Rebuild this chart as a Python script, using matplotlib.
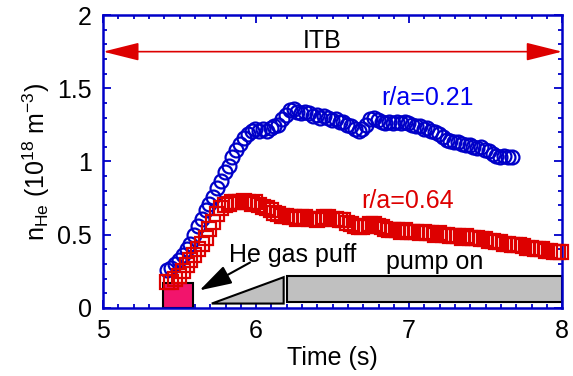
import numpy as np
import matplotlib
matplotlib.use("Agg")
import matplotlib.pyplot as plt
from matplotlib.patches import Rectangle, Polygon, FancyArrowPatch
from matplotlib.ticker import MultipleLocator

plt.rcParams['font.family'] = ['Liberation Sans', 'DejaVu Sans']
plt.rcParams['mathtext.fontset'] = 'custom'
plt.rcParams['mathtext.rm'] = 'Liberation Sans'
plt.rcParams['mathtext.it'] = 'Liberation Sans:italic'

# r/a = 0.21 (circles), sampled every 25 ms from 5.42 s
t_inner = 5.42 + 0.025 * np.arange(91)
n_inner = [0.26, 0.27, 0.30, 0.33, 0.36, 0.40, 0.44, 0.50, 0.56, 0.61,
           0.67, 0.71, 0.76, 0.82, 0.87, 0.93, 0.97, 1.03, 1.08, 1.12,
           1.16, 1.19, 1.21, 1.22, 1.21, 1.22, 1.21, 1.23, 1.24, 1.25,
           1.29, 1.32, 1.35, 1.36, 1.34, 1.33, 1.34, 1.33, 1.31, 1.32,
           1.30, 1.31, 1.30, 1.28, 1.29, 1.27, 1.27, 1.25, 1.24, 1.22,
           1.21, 1.22, 1.25, 1.29, 1.30, 1.28, 1.27, 1.26, 1.27, 1.26,
           1.27, 1.26, 1.27, 1.26, 1.25, 1.24, 1.24, 1.22, 1.23, 1.21,
           1.20, 1.19, 1.17, 1.15, 1.14, 1.13, 1.13, 1.12, 1.11, 1.11,
           1.10, 1.09, 1.10, 1.08, 1.07, 1.05, 1.04, 1.03, 1.04, 1.03,
           1.03]

# r/a = 0.64 (squares)
t_outer = 5.42 + 0.025 * np.arange(104)
n_outer = [0.18, 0.18, 0.20, 0.22, 0.25, 0.29, 0.33, 0.36, 0.40, 0.44,
           0.48, 0.54, 0.59, 0.64, 0.68, 0.70, 0.71, 0.72, 0.72, 0.72,
           0.73, 0.72, 0.71, 0.72, 0.70, 0.69, 0.68, 0.67, 0.65, 0.64,
           0.63, 0.63, 0.62, 0.62, 0.61, 0.62, 0.62, 0.61, 0.61, 0.60,
           0.61, 0.62, 0.62, 0.61, 0.61, 0.60, 0.60, 0.58, 0.57, 0.56,
           0.55, 0.55, 0.56, 0.57, 0.57, 0.56, 0.55, 0.54, 0.53, 0.53,
           0.53, 0.52, 0.53, 0.52, 0.52, 0.52, 0.51, 0.52, 0.51, 0.51,
           0.50, 0.51, 0.50, 0.50, 0.49, 0.49, 0.49, 0.48, 0.49, 0.48,
           0.48, 0.48, 0.47, 0.47, 0.46, 0.46, 0.45, 0.45, 0.44, 0.44,
           0.43, 0.43, 0.43, 0.42, 0.41, 0.41, 0.40, 0.40, 0.40, 0.39,
           0.39, 0.38, 0.38, 0.38]

# gas puff window and pump ramp / plateau
puff = (5.39, 5.59, 0.17)
ramp = [(5.71, 0.03), (6.18, 0.21), (6.18, 0.03)]
pump = (6.20, 8.00, 0.04, 0.22)
itb = (5.0, 8.0, 1.75)

blue = '#0000c8'
red = '#dd0000'
fs = 18

fig = plt.figure(figsize=(5.73, 3.76), dpi=100)
ax = fig.add_axes([0.18, 0.181, 0.801, 0.779])

ax.add_patch(Rectangle((puff[0], 0), puff[1] - puff[0], puff[2],
                       facecolor='#f2146c', edgecolor='black', lw=1.5, zorder=2))
ax.add_patch(Polygon(ramp, closed=True, facecolor='#c0c0c0',
                     edgecolor='black', lw=1.5, zorder=2))
ax.add_patch(Rectangle((pump[0], pump[2]), pump[1] - pump[0], pump[3] - pump[2],
                       facecolor='#c0c0c0', edgecolor='black', lw=1.5, zorder=2,
                       clip_on=False))

ax.plot(t_inner, n_inner, 'o', ms=10, mfc='none', mec=blue, mew=1.6, zorder=3)
ax.plot(t_outer, n_outer, 's', ms=10, mfc='none', mec=red, mew=1.6, zorder=3,
        clip_on=False)

ax.add_patch(FancyArrowPatch((itb[0], itb[2]), (itb[1], itb[2]),
                             arrowstyle='<|-|>,head_length=1.12,head_width=0.28',
                             mutation_scale=20, color=red, lw=1.2,
                             shrinkA=0, shrinkB=0, zorder=4))
ax.text(6.43, 1.775, 'ITB', fontsize=fs, ha='center', va='baseline')

ax.add_patch(FancyArrowPatch((5.96, 0.31), (5.63, 0.12),
                             arrowstyle='-|>,head_length=1.0,head_width=0.3',
                             mutation_scale=20, color='black', lw=1.5,
                             shrinkA=0, shrinkB=0, zorder=4))
ax.text(5.82, 0.314, 'He gas puff', fontsize=fs, ha='left', va='baseline')
ax.text(6.85, 0.266, 'pump on', fontsize=fs, ha='left', va='baseline')
ax.text(6.82, 1.386, 'r/a=0.21', fontsize=fs, color='#0000ee', ha='left', va='baseline')
ax.text(6.69, 0.683, 'r/a=0.64', fontsize=fs, color=red, ha='left', va='baseline')

ax.set_xlim(5, 8)
ax.set_ylim(0, 2)
ax.xaxis.set_major_locator(MultipleLocator(1))
ax.xaxis.set_minor_locator(MultipleLocator(0.1))
ax.yaxis.set_minor_locator(MultipleLocator(0.1))
ax.set_yticks([0, 0.5, 1, 1.5, 2])
ax.set_yticklabels(['0', '0.5', '1', '1.5', '2'])
ax.tick_params(which='both', direction='in', top=True, right=True,
               color=blue, labelsize=fs, width=1.3)
ax.tick_params(which='major', length=6, pad=8)
ax.tick_params(which='minor', length=3)
for s in ax.spines.values():
    s.set_color(blue)
    s.set_linewidth(1.8)

ax.set_xlabel('Time (s)', fontsize=fs, labelpad=2)
ax.set_ylabel(r'n$_{\mathregular{He}}$ (10$^{\mathregular{18}}$ m$^{\mathregular{-3}}$)',
              fontsize=fs, labelpad=4)

fig.savefig('out.png', dpi=100)
